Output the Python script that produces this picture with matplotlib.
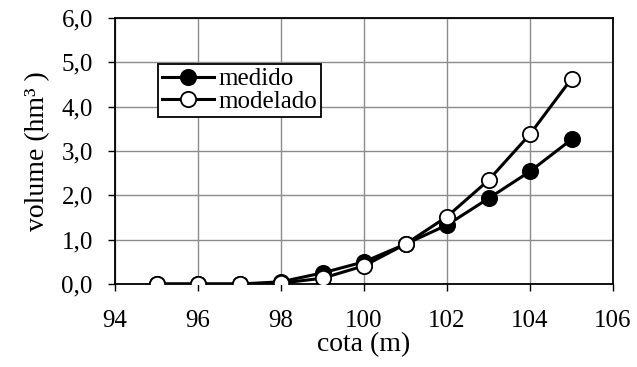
import matplotlib
matplotlib.use("Agg")
import matplotlib.pyplot as plt
from matplotlib.ticker import FuncFormatter, MultipleLocator

# Reservoir volume versus water level
cota = [95, 96, 97, 98, 99, 100, 101, 102, 103, 104, 105]
medido = [0.0, 0.0, 0.0, 0.05, 0.25, 0.50, 0.90, 1.33, 1.93, 2.54, 3.26]
modelado = [0.0, 0.0, 0.0, 0.02, 0.13, 0.41, 0.90, 1.52, 2.34, 3.38, 4.63]

plt.rcParams["font.family"] = ["Liberation Serif", "DejaVu Serif"]

W, H = 637, 367
fig = plt.figure(figsize=(W / 100, H / 100), dpi=100)
# plot area: x 115..613 px, y 18..284 px
ax = fig.add_axes([115 / W, (H - 284) / H, (613 - 115) / W, (284 - 18) / H])

ax.plot(cota, medido, color="black", lw=2.2, marker="o", ms=11,
        mfc="black", mec="black", mew=1.3, label="medido", zorder=3)
ax.plot(cota, modelado, color="black", lw=2.2, marker="o", ms=11,
        mfc="white", mec="black", mew=1.3, label="modelado", zorder=4)

ax.set_xlim(94, 106)
ax.set_ylim(0, 6)
ax.xaxis.set_major_locator(MultipleLocator(2))
ax.yaxis.set_major_locator(MultipleLocator(1))
ax.yaxis.set_major_formatter(FuncFormatter(lambda v, p: f"{v:.1f}".replace(".", ",")))

ax.grid(True, color="#8c8c8c", lw=1.0)
ax.set_axisbelow(True)
for s in ax.spines.values():
    s.set_color("black")
    s.set_linewidth(1.3)

ax.tick_params(axis="x", direction="out", length=5, width=1.0, labelsize=18, pad=14)
ax.tick_params(axis="y", direction="out", length=5, width=1.0, labelsize=18, pad=11)
ax.set_xlabel("cota (m)", fontsize=20, labelpad=0)
ax.set_ylabel("volume (hm³ )", fontsize=20, labelpad=8)

leg = ax.legend(loc="upper left", bbox_to_anchor=((158 - 115) / 498, (284 - 64) / 266),
                fontsize=18, frameon=True, fancybox=False, edgecolor="black",
                framealpha=1, handlelength=2.1, handletextpad=0.15, borderpad=0.15,
                labelspacing=0.0, borderaxespad=0)
leg.get_frame().set_linewidth(1.3)

fig.savefig("out.png", dpi=100)
